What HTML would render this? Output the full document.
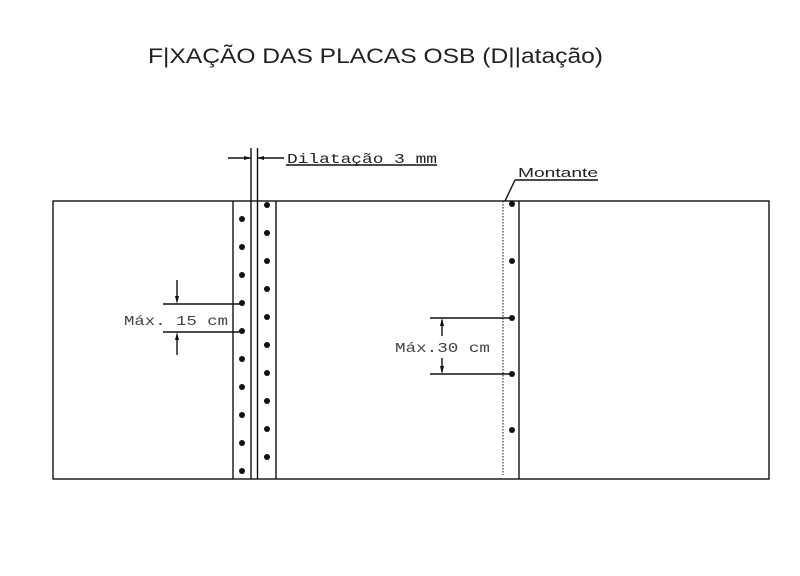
<!DOCTYPE html>
<html><head><meta charset="utf-8"><style>body{margin:0;background:#fff}svg{display:block}</style></head>
<body>
<svg width="800" height="576" xmlns="http://www.w3.org/2000/svg">
<rect width="800" height="576" fill="#fff"/>
<text x="148" y="63" font-family="Liberation Sans, sans-serif" font-size="21" fill="#222" textLength="455" lengthAdjust="spacingAndGlyphs">F|XAÇÃO DAS PLACAS OSB (D||atação)</text>
<g stroke="#111" stroke-width="1.4" fill="none">
<rect x="53" y="201" width="716" height="278"/>
<line x1="233" y1="201" x2="233" y2="479"/>
<line x1="251" y1="148" x2="251" y2="479"/>
<line x1="257.5" y1="148" x2="257.5" y2="479"/>
<line x1="276" y1="201" x2="276" y2="479"/>
<line x1="519" y1="201" x2="519" y2="479"/>
<line x1="503" y1="201" x2="503" y2="475" stroke-dasharray="1.5 1.5" stroke-width="1"/>
<line x1="228" y1="158" x2="251" y2="158"/>
<line x1="257.5" y1="158" x2="284" y2="158"/>
<line x1="286" y1="165" x2="437" y2="165"/>
<line x1="515" y1="180" x2="598" y2="180"/>
<line x1="515" y1="180" x2="505" y2="201"/>
<line x1="163" y1="304" x2="242" y2="304"/>
<line x1="163" y1="332" x2="242" y2="332"/>
<line x1="177" y1="280" x2="177" y2="300"/>
<line x1="177" y1="336" x2="177" y2="355"/>
<line x1="430" y1="318" x2="512" y2="318"/>
<line x1="430" y1="374" x2="512" y2="374"/>
<line x1="442" y1="320" x2="442" y2="336"/>
<line x1="442" y1="358" x2="442" y2="372"/>
</g>
<g fill="#111">
<polygon points="251,158 244,156 244,160"/>
<polygon points="257.5,158 264,156 264,160"/>
<polygon points="177,304 175,296 179,296"/>
<polygon points="177,332 175,340 179,340"/>
<polygon points="442,318 440,326 444,326"/>
<polygon points="442,374 440,366 444,366"/>
<circle cx="242" cy="219" r="3"/><circle cx="242" cy="247" r="3"/><circle cx="242" cy="275" r="3"/><circle cx="242" cy="303" r="3"/><circle cx="242" cy="331" r="3"/><circle cx="242" cy="359" r="3"/><circle cx="242" cy="387" r="3"/><circle cx="242" cy="415" r="3"/><circle cx="242" cy="443" r="3"/><circle cx="242" cy="471" r="3"/>
<circle cx="267" cy="205" r="3"/><circle cx="267" cy="233" r="3"/><circle cx="267" cy="261" r="3"/><circle cx="267" cy="289" r="3"/><circle cx="267" cy="317" r="3"/><circle cx="267" cy="345" r="3"/><circle cx="267" cy="373" r="3"/><circle cx="267" cy="401" r="3"/><circle cx="267" cy="429" r="3"/><circle cx="267" cy="457" r="3"/>
<circle cx="512" cy="204" r="3"/><circle cx="512" cy="261" r="3"/><circle cx="512" cy="318" r="3"/><circle cx="512" cy="374" r="3"/><circle cx="512" cy="430" r="3"/>
</g>
<g font-family="Liberation Mono, monospace" fill="#444" font-size="14">
<text x="287" y="163" textLength="150" lengthAdjust="spacingAndGlyphs" fill="#222">Dilatação 3 mm</text>
<text x="124" y="325" textLength="104" lengthAdjust="spacingAndGlyphs">Máx. 15 cm</text>
<text x="395" y="352" textLength="95" lengthAdjust="spacingAndGlyphs">Máx.30 cm</text>
</g>
<text x="518" y="177" font-family="Liberation Sans, sans-serif" font-size="13" fill="#222" textLength="80" lengthAdjust="spacingAndGlyphs">Montante</text>
</svg>
</body></html>
